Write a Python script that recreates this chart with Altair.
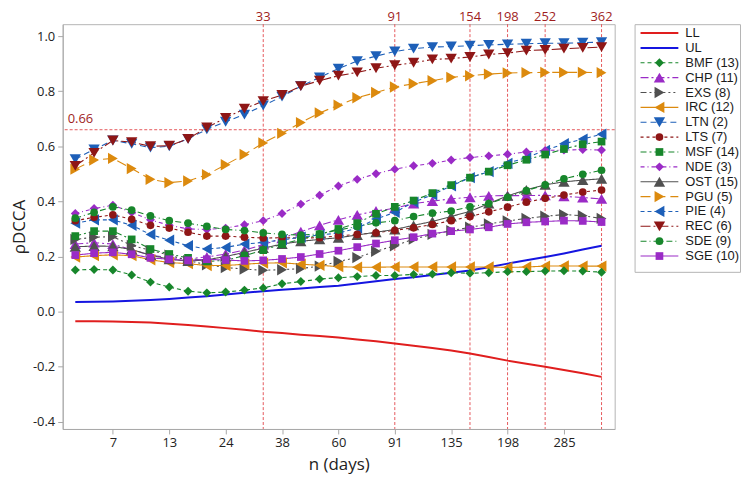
import altair as alt
import pandas as pd

# ---------------- data ----------------
N_DAYS = [5, 6, 7, 9, 11, 13, 16, 20, 24, 28, 33, 38, 44, 52, 60, 69, 79, 91,
          104, 118, 135, 154, 175, 198, 224, 252, 285, 322, 362]
X_TICK_N = [7, 13, 24, 38, 60, 91, 135, 198, 285]
REF_N = [33, 91, 154, 198, 252, 362]
REF_Y = 0.66
Y_TICKS = [-0.4, -0.2, 0.0, 0.2, 0.4, 0.6, 0.8, 1.0]

NAMES = ["LL", "UL", "BMF (13)", "CHP (11)", "EXS (8)", "IRC (12)", "LTN (2)",
         "LTS (7)", "MSF (14)", "NDE (3)", "OST (15)", "PGU (5)", "PIE (4)",
         "REC (6)", "SDE (9)", "SGE (10)"]

LL = [-0.035, -0.035, -0.036, -0.038, -0.040, -0.044, -0.049, -0.054, -0.060, -0.066,
      -0.073, -0.078, -0.084, -0.089, -0.094, -0.101, -0.108, -0.116, -0.124, -0.132,
      -0.141, -0.152, -0.165, -0.178, -0.189, -0.200, -0.212, -0.224, -0.237]
UL = [0.035, 0.036, 0.037, 0.039, 0.042, 0.046, 0.051, 0.056, 0.062, 0.068,
      0.074, 0.079, 0.084, 0.089, 0.094, 0.102, 0.110, 0.118, 0.125, 0.133,
      0.141, 0.149, 0.161, 0.174, 0.186, 0.198, 0.211, 0.225, 0.239]
BMF = [0.151, 0.153, 0.151, 0.133, 0.107, 0.089, 0.074, 0.068, 0.071, 0.078,
       0.086, 0.101, 0.109, 0.118, 0.123, 0.127, 0.131, 0.131, 0.135, 0.136,
       0.141, 0.139, 0.141, 0.145, 0.145, 0.147, 0.148, 0.147, 0.143]
CHP = [0.245, 0.250, 0.245, 0.224, 0.205, 0.195, 0.192, 0.198, 0.209, 0.223,
       0.243, 0.266, 0.290, 0.313, 0.333, 0.351, 0.365, 0.375, 0.392, 0.401,
       0.409, 0.415, 0.420, 0.421, 0.421, 0.422, 0.418, 0.414, 0.409]
EXS = [0.262, 0.270, 0.272, 0.240, 0.222, 0.205, 0.185, 0.170, 0.160, 0.154,
       0.150, 0.152, 0.156, 0.165, 0.182, 0.196, 0.219, 0.239, 0.263, 0.280,
       0.294, 0.306, 0.318, 0.329, 0.338, 0.346, 0.352, 0.348, 0.338]
IRC = [0.198, 0.203, 0.206, 0.203, 0.188, 0.178, 0.174, 0.167, 0.167, 0.172,
       0.176, 0.177, 0.172, 0.168, 0.163, 0.161, 0.161, 0.162, 0.162, 0.162,
       0.162, 0.162, 0.162, 0.160, 0.162, 0.165, 0.166, 0.165, 0.165]
LTN = [0.553, 0.589, 0.621, 0.609, 0.595, 0.600, 0.627, 0.661, 0.689, 0.715,
       0.748, 0.780, 0.818, 0.850, 0.882, 0.909, 0.927, 0.944, 0.954, 0.960,
       0.962, 0.965, 0.968, 0.970, 0.972, 0.974, 0.974, 0.976, 0.978]
LTS = [0.330, 0.342, 0.351, 0.335, 0.313, 0.303, 0.288, 0.274, 0.274, 0.270,
       0.267, 0.268, 0.267, 0.268, 0.275, 0.280, 0.286, 0.295, 0.304, 0.316,
       0.330, 0.345, 0.362, 0.379, 0.397, 0.411, 0.423, 0.434, 0.441]
MSF = [0.274, 0.292, 0.292, 0.262, 0.227, 0.209, 0.195, 0.182, 0.186, 0.203,
       0.223, 0.245, 0.262, 0.280, 0.300, 0.321, 0.355, 0.380, 0.403, 0.430,
       0.459, 0.486, 0.508, 0.531, 0.551, 0.570, 0.590, 0.607, 0.617]
NDE = [0.356, 0.374, 0.386, 0.360, 0.333, 0.313, 0.300, 0.298, 0.303, 0.315,
       0.330, 0.356, 0.390, 0.422, 0.456, 0.480, 0.500, 0.517, 0.529, 0.538,
       0.550, 0.559, 0.565, 0.571, 0.579, 0.585, 0.586, 0.588, 0.586]
OST = [0.235, 0.238, 0.237, 0.225, 0.205, 0.190, 0.183, 0.188, 0.200, 0.215,
       0.230, 0.245, 0.255, 0.262, 0.268, 0.278, 0.288, 0.298, 0.313, 0.327,
       0.345, 0.364, 0.392, 0.420, 0.442, 0.460, 0.471, 0.477, 0.482]
PGU = [0.517, 0.550, 0.556, 0.519, 0.480, 0.468, 0.474, 0.497, 0.533, 0.570,
       0.612, 0.647, 0.686, 0.721, 0.749, 0.776, 0.795, 0.815, 0.827, 0.838,
       0.850, 0.856, 0.862, 0.866, 0.867, 0.868, 0.868, 0.868, 0.867]
PIE = [0.321, 0.333, 0.333, 0.313, 0.280, 0.259, 0.239, 0.227, 0.233, 0.245,
       0.251, 0.260, 0.270, 0.278, 0.285, 0.303, 0.336, 0.360, 0.397, 0.424,
       0.456, 0.486, 0.508, 0.538, 0.559, 0.585, 0.609, 0.626, 0.644]
REC = [0.529, 0.576, 0.621, 0.615, 0.600, 0.602, 0.627, 0.668, 0.703, 0.736,
       0.764, 0.786, 0.818, 0.838, 0.856, 0.868, 0.883, 0.894, 0.903, 0.915,
       0.918, 0.924, 0.933, 0.938, 0.947, 0.950, 0.954, 0.957, 0.960]
SDE = [0.339, 0.360, 0.380, 0.368, 0.347, 0.330, 0.321, 0.309, 0.298, 0.294,
       0.286, 0.280, 0.278, 0.282, 0.296, 0.309, 0.322, 0.330, 0.345, 0.357,
       0.365, 0.380, 0.392, 0.415, 0.439, 0.460, 0.482, 0.498, 0.513]
SGE = [0.205, 0.212, 0.215, 0.208, 0.195, 0.190, 0.186, 0.190, 0.187, 0.184,
       0.186, 0.191, 0.198, 0.209, 0.221, 0.234, 0.247, 0.259, 0.270, 0.283,
       0.292, 0.298, 0.306, 0.318, 0.324, 0.327, 0.330, 0.329, 0.325]

SERIES = [LL, UL, BMF, CHP, EXS, IRC, LTN, LTS, MSF, NDE, OST, PGU, PIE, REC, SDE, SGE]

# ---------------- styles ----------------
GREEN, PURPLE, GREY, ORANGE = "#17862b", "#9a2bc6", "#505050", "#dc8a0e"
BLUE, DRED = "#1d5fb8", "#8e1616"
COLORS = ["#e01e1e", "#1515e0", GREEN, PURPLE, GREY, ORANGE, BLUE, DRED,
          GREEN, PURPLE, GREY, ORANGE, BLUE, DRED, GREEN, PURPLE]
SHAPES = ["circle", "circle", "diamond", "triangle-up", "triangle-right",
          "triangle-left", "triangle-down", "circle", "square", "diamond",
          "triangle-up", "triangle-right", "triangle-left", "triangle-down",
          "circle", "square"]
DASHES = [[1, 0], [1, 0], [4, 3], [8, 3, 2, 3], [6, 3, 2, 3, 2, 3], [1, 0],
          [6, 4], [3, 3], [6, 3, 2, 3], [4, 3, 1, 3], [1, 0], [10, 5], [4, 3],
          [10, 3, 2, 3], [6, 3, 1, 3], [1, 0]]
BOUNDS = ["LL", "UL"]
MARKED = NAMES[2:]
SIZE_GROUPS = {  # marker area per shape family
    130: [n for n, s in zip(NAMES[2:], SHAPES[2:]) if s.startswith("triangle")],
    80: [n for n, s in zip(NAMES[2:], SHAPES[2:]) if s == "diamond"],
    60: [n for n, s in zip(NAMES[2:], SHAPES[2:]) if s in ("circle", "square")],
}

rows = []
for name, vals in zip(NAMES, SERIES):
    for i, (n, v) in enumerate(zip(N_DAYS, vals)):
        rows.append({"series": name, "idx": i, "n": n, "value": v})
df = pd.DataFrame(rows)

idx_of = {n: i for i, n in enumerate(N_DAYS)}
ref_df = pd.DataFrame({"idx": [idx_of[n] for n in REF_N], "label": [str(n) for n in REF_N]})

label_expr = "[" + ",".join(str(n) for n in N_DAYS) + "][datum.value]"

x_enc = alt.X("idx:Q",
              scale=alt.Scale(domain=[-0.67, 28.7], nice=False, zero=False),
              axis=alt.Axis(values=[idx_of[n] for n in X_TICK_N], labelExpr=label_expr,
                            title="n (days)", grid=False, titlePadding=7))
y_enc = alt.Y("value:Q",
              scale=alt.Scale(domain=[-0.426, 1.043], nice=False, zero=False),
              axis=alt.Axis(values=Y_TICKS, title="ρDCCA", grid=False,
                            labelExpr="replace(format(datum.value, '.1f'), '\u2212', '-')"))

color_enc = alt.Color("series:N", scale=alt.Scale(domain=NAMES, range=COLORS), legend=None)
dash_enc = alt.StrokeDash("series:N", scale=alt.Scale(domain=NAMES, range=DASHES), legend=None)
shape_enc = alt.Shape("series:N", scale=alt.Scale(domain=NAMES, range=SHAPES), legend=None)


def only(names):
    return alt.FieldOneOfPredicate(field="series", oneOf=names)


REF_COLOR = "#e2474b"
LABEL_COLOR = "#a01e1e"

vrules = alt.Chart(ref_df).mark_rule(color=REF_COLOR, strokeDash=[3, 2], strokeWidth=1,
                                     opacity=0.9).encode(x=x_enc)
hrule = alt.Chart(pd.DataFrame({"y": [REF_Y]})).mark_rule(
    color=REF_COLOR, strokeDash=[3, 2], strokeWidth=1, opacity=0.9).encode(y=alt.Y("y:Q"))
hlabel = alt.Chart(pd.DataFrame({"y": [REF_Y], "t": [f"{REF_Y:.2f}"]})).mark_text(
    align="left", baseline="alphabetic", dy=-7, fontSize=13, color=LABEL_COLOR).encode(
    x=alt.value(5), y=alt.Y("y:Q"), text="t:N")
top_labels = alt.Chart(ref_df).mark_text(
    align="center", baseline="alphabetic", fontSize=13, color=LABEL_COLOR).encode(
    x=x_enc, y=alt.value(-3), text="label:N")

bound_lines = alt.Chart(df).transform_filter(only(BOUNDS)).mark_line(strokeWidth=2).encode(
    x=x_enc, y=y_enc, color=color_enc, detail="series:N", order="idx:Q")
series_lines = alt.Chart(df).transform_filter(only(MARKED)).mark_line(strokeWidth=1.1).encode(
    x=x_enc, y=y_enc, color=color_enc, strokeDash=dash_enc, detail="series:N", order="idx:Q")
point_layers = [
    alt.Chart(df).transform_filter(only(grp)).mark_point(filled=True, opacity=1, size=sz).encode(
        x=x_enc, y=y_enc, color=color_enc, shape=shape_enc)
    for sz, grp in SIZE_GROUPS.items()
]

main = alt.layer(vrules, hrule, hlabel, top_labels, bound_lines, series_lines, *point_layers).properties(
    width=555, height=407)

# ---------------- legend panel ----------------
leg_df = pd.DataFrame({"series": NAMES})
leg_y = alt.Y("series:N", scale=alt.Scale(type="point", domain=NAMES, padding=0.83, align=0.36), axis=None)
leg_bound = alt.Chart(leg_df).transform_filter(only(BOUNDS)).mark_rule(strokeWidth=2).encode(
    x=alt.value(6), x2=alt.value(44), y=leg_y, color=color_enc)
leg_rule = alt.Chart(leg_df).transform_filter(only(MARKED)).mark_rule(strokeWidth=1.1).encode(
    x=alt.value(6), x2=alt.value(44), y=leg_y, color=color_enc, strokeDash=dash_enc)
leg_pts = [
    alt.Chart(leg_df).transform_filter(only(grp)).mark_point(filled=True, opacity=1, size=sz).encode(
        x=alt.value(25), y=leg_y, color=color_enc, shape=shape_enc)
    for sz, grp in SIZE_GROUPS.items()
]
leg_txt = alt.Chart(leg_df).mark_text(align="left", baseline="middle", fontSize=13,
                                      font="Liberation Sans", color="#1a1a1a").encode(
    x=alt.value(51), y=leg_y, text="series:N")
legend = alt.layer(leg_bound, leg_rule, *leg_pts, leg_txt).properties(width=106, height=249)

chart = alt.hconcat(main, legend, spacing=20, bounds="flush").properties(
    padding={"left": 2, "top": 1, "right": 0, "bottom": 0}
).configure(font="Open Sans").configure_view(
    stroke="#b4b4b4", strokeWidth=1
).configure_axis(
    domainColor="#a8a8a8", tickColor="#a8a8a8", tickSize=5,
    labelFontSize=13, labelColor="#222222", labelPadding=3,
    titleFontSize=17, titleFontWeight="normal", titleColor="#222222", titlePadding=4
)

chart.save("out.html", embed_options={"renderer": "svg", "actions": False})
